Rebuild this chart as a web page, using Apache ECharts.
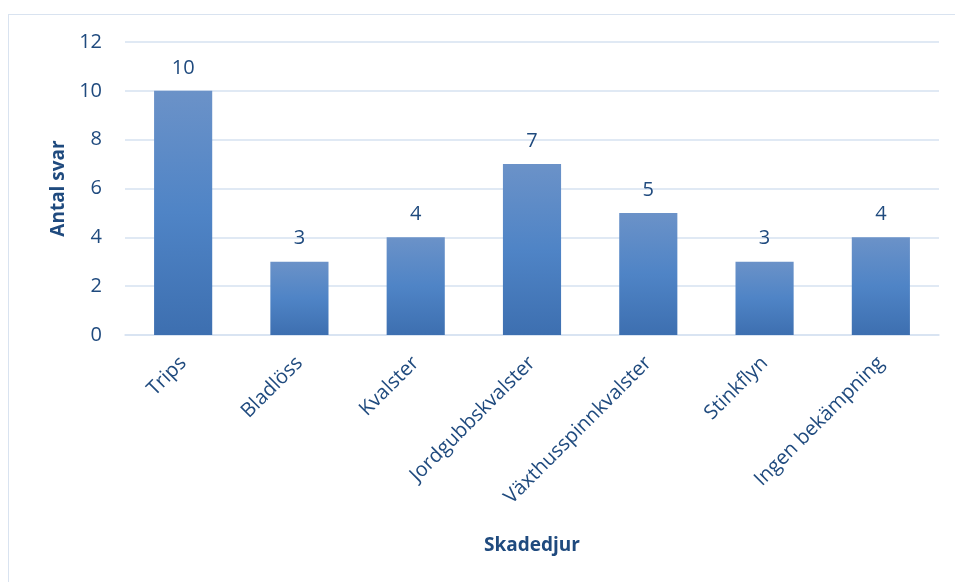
<!DOCTYPE html>
<html><head><meta charset="utf-8">
<script src="https://cdn.jsdelivr.net/npm/echarts@6/dist/echarts.min.js"></script>
<style>html,body{margin:0;padding:0;background:#fff}#c{width:955px;height:582px}
#frame{position:absolute;left:8px;top:14px;width:960px;height:600px;border:1.5px solid #D9E3F0;box-sizing:border-box;pointer-events:none}</style>
</head><body>
<div id="c"></div><div id="frame"></div>
<script>
const categories = ["Trips","Bladlöss","Kvalster","Jordgubbskvalster","Växthusspinnkvalster","Stinkflyn","Ingen bekämpning"];
const values = [10,3,4,7,5,3,4];
const yTicks = [0,2,4,6,8,10,12];
const txt = '#1F4A7E';
const font = '"Open Sans", sans-serif';
const chart = echarts.init(document.getElementById('c'));
chart.setOption({
  animation:false,
  grid:{left:125,right:16,top:42,bottom:247,containLabel:false},
  xAxis:{type:'category',data:categories,
    axisLine:{lineStyle:{color:'#D6E2F1',width:1.5}},axisTick:{show:false},
    axisLabel:{rotate:45,color:txt,fontSize:20,fontFamily:font,margin:25,interval:0},
    name:'Skadedjur',nameLocation:'middle',nameGap:201,
    nameTextStyle:{color:txt,fontSize:19,fontWeight:'bold',fontFamily:font}},
  yAxis:{type:'value',min:yTicks[0],max:yTicks[yTicks.length-1],interval:2,
    axisLine:{show:false},axisTick:{show:false},
    splitLine:{lineStyle:{color:'#D6E2F1',width:1.5}},
    axisLabel:{color:txt,fontSize:20,fontFamily:font,margin:23},
    name:'Antal svar',nameLocation:'middle',nameGap:56,
    nameTextStyle:{color:txt,fontSize:19,fontWeight:'bold',fontFamily:font}},
  series:[{type:'bar',data:values,barWidth:'50%',
    itemStyle:{color:new echarts.graphic.LinearGradient(0,0,0,1,[
      {offset:0,color:'#6B92C8'},{offset:0.5,color:'#4F84C6'},{offset:1,color:'#3D6FB0'}])},
    label:{show:true,position:'top',distance:13,color:txt,fontSize:20,fontFamily:font}}]
});
</script></body></html>
